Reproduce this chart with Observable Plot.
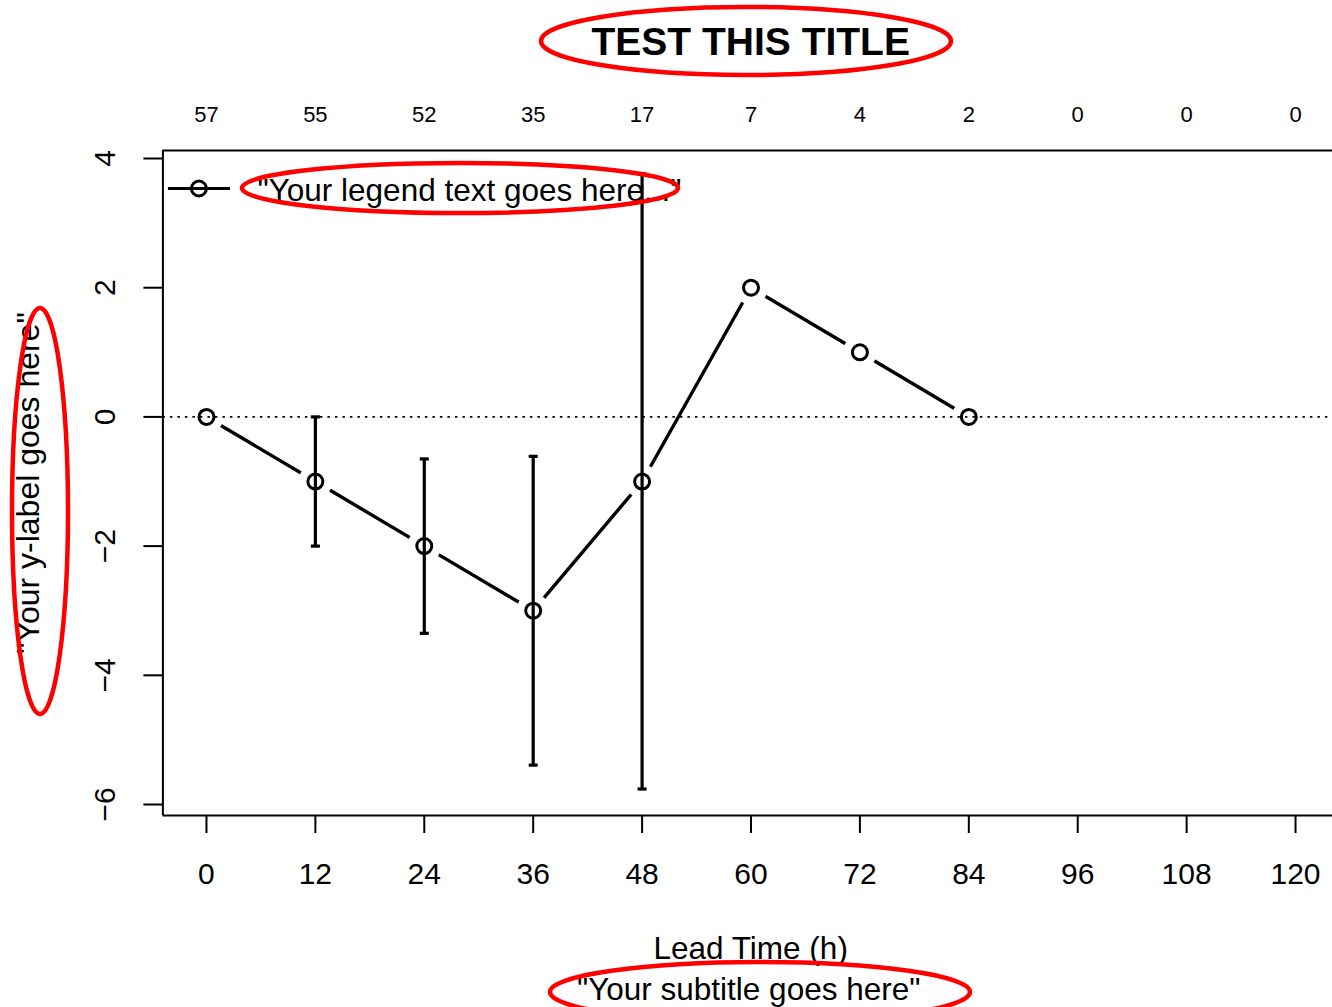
<!DOCTYPE html>
<html><head><meta charset="utf-8">
<script src="https://cdn.jsdelivr.net/npm/d3@7"></script>
<script src="https://cdn.jsdelivr.net/npm/@observablehq/plot@0.6"></script>
<style>html,body{margin:0;padding:0;background:#fff;overflow:hidden}</style>
</head><body><div id="chart"></div>
<script>
// ---- data ----
const leadTimes = [0, 12, 24, 36, 48, 60, 72, 84];
const meanValues = [0, -1, -2, -3, -1, 2, 1, 0];
const errValues = [0, 1, 1.35, 2.39, 4.76, 0, 0, 0];
const xTicks = [0, 12, 24, 36, 48, 60, 72, 84, 96, 108, 120];
const sampleCounts = [57, 55, 52, 35, 17, 7, 4, 2, 0, 0, 0];
const yTicks = [-6, -4, -2, 0, 2, 4];
const titleText = "TEST THIS TITLE";
const xLabel = "Lead Time (h)";
const yLabel = "\"Your y-label goes here\"";
const subtitleText = "\"Your subtitle goes here\"";
const legendText = "\"Your legend text goes here...\"";

// ---- derived tables ----
const points = leadTimes.map((t, i) => ({t, v: meanValues[i], e: errValues[i]}));
const bars = points.filter(d => d.e > 0);
const caps = bars.flatMap(d => [{t: d.t, v: d.v + d.e}, {t: d.t, v: d.v - d.e}]);
const topLabels = xTicks.map((t, i) => ({t, n: sampleCounts[i]}));
const xLim = [-4.8, 124.8];
const yLim = [-6.17, 4.124];
const fmt = d => (d < 0 ? "\u2212" + Math.abs(d) : String(d));

const capSymbol = {draw(ctx, size) { const w = Math.sqrt(size) / 2; ctx.moveTo(-w, 0); ctx.lineTo(w, 0); }};
const legendKey = {draw(ctx) { ctx.moveTo(-31, 0); ctx.lineTo(31, 0); ctx.moveTo(7.5, 0); ctx.arc(0, 0, 7.5, 0, 2 * Math.PI); }};

const W = 1332, H = 1007;
const plot = Plot.plot({
  width: W, height: H,
  marginLeft: 162.4, marginRight: 0, marginTop: 150, marginBottom: 192,
  style: {fontFamily: "'Liberation Sans', Arial, Helvetica, sans-serif", background: "#fff", color: "#000"},
  x: {domain: xLim, range: [162.4, 1338.6]},
  y: {domain: yLim, range: [815, 150]},
  marks: [
    // data line (type "b": gaps around points)
    Plot.line(points, {x: "t", y: "v", stroke: "#000", strokeWidth: 3.4}),
    Plot.dot(points, {x: "t", y: "v", r: 17, fill: "#fff", stroke: "none"}),
    // dotted zero line
    Plot.ruleY([0], {stroke: "#000", strokeWidth: 1.8, strokeDasharray: "2.5,5"}),
    // error bars
    Plot.ruleX(bars, {x: "t", y1: d => d.v - d.e, y2: d => d.v + d.e, stroke: "#000", strokeWidth: 3.2}),
    Plot.dot(caps, {x: "t", y: "v", symbol: capSymbol, r: 5.1, fill: "none", stroke: "#000", strokeWidth: 3.2}),
    // points
    Plot.dot(points, {x: "t", y: "v", r: 7.5, fill: "none", stroke: "#000", strokeWidth: 3}),
    // box
    Plot.ruleY(yLim, {stroke: "#000", strokeWidth: 2}),
    Plot.ruleX([xLim[0]], {stroke: "#000", strokeWidth: 2}),
    // bottom axis
    Plot.axisX({anchor: "bottom", ticks: xTicks, tickSize: 18, tickPadding: 29, fontSize: 30, strokeWidth: 2, tickFormat: d => String(d), label: null}),
    // left axis
    Plot.axisY({anchor: "left", ticks: yTicks, tickSize: 19, strokeWidth: 2, tickFormat: () => "", label: null}),
    Plot.text(yTicks, {y: d => d, text: fmt, frameAnchor: "left", dx: -47.4, rotate: -90, lineAnchor: "bottom", textAnchor: "middle", fontSize: 30, fill: "#000"}),
    // top counts
    Plot.text(topLabels, {x: "t", text: d => String(d.n), frameAnchor: "top", dy: -29, lineAnchor: "bottom", fontSize: 22, fill: "#000"}),
    // titles
    Plot.text([titleText], {text: d => d, frameAnchor: "top", dx: 3, dy: -96, lineAnchor: "bottom", fontSize: 39, fontWeight: "bold", fill: "#000"}),
    Plot.text([xLabel], {text: d => d, frameAnchor: "bottom", dx: 3, dy: 143, lineAnchor: "bottom", fontSize: 31.5, fill: "#000"}),
    Plot.text([subtitleText], {text: d => d, frameAnchor: "bottom", dx: 1, dy: 184, lineAnchor: "bottom", fontSize: 31.5, fill: "#000"}),
    Plot.text([yLabel], {text: d => d, frameAnchor: "left", dx: -123.4, rotate: -90, lineAnchor: "bottom", textAnchor: "middle", fontSize: 32, fill: "#000"}),
    // legend
    Plot.dot([legendText], {frameAnchor: "top-left", dx: 36, dy: 38, symbol: legendKey, r: 7, fill: "none", stroke: "#000", strokeWidth: 3}),
    Plot.text([legendText], {text: d => d, frameAnchor: "top-left", dx: 94.6, dy: 50, lineAnchor: "bottom", textAnchor: "start", fontSize: 31.5, fill: "#000"})
  ]
});

// red annotation ellipses drawn over the chart
const notes = [
  {cx: 746, cy: 41, rx: 205, ry: 34},
  {cx: 460, cy: 188, rx: 218, ry: 25},
  {cx: 40, cy: 511, rx: 28, ry: 203},
  {cx: 760, cy: 992, rx: 210, ry: 30}
];
d3.select(plot).append("g")
  .selectAll("ellipse").data(notes).join("ellipse")
  .attr("cx", d => d.cx).attr("cy", d => d.cy)
  .attr("rx", d => d.rx).attr("ry", d => d.ry)
  .attr("fill", "none").attr("stroke", "#ff0000").attr("stroke-width", 4.5);

document.getElementById("chart").appendChild(plot);
</script>
</body></html>
